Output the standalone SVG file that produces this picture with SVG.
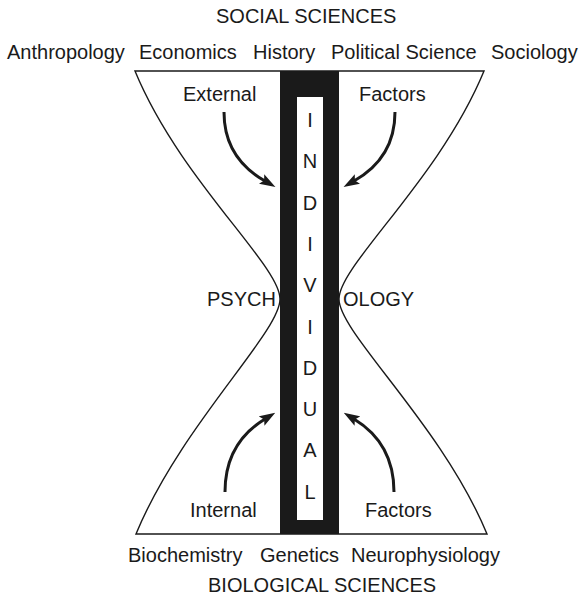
<svg xmlns="http://www.w3.org/2000/svg" width="582" height="599" viewBox="0 0 582 599">
  <style>
    text { font-family: "Liberation Sans", Arial, Helvetica, sans-serif; font-size: 20px; fill: #1a1a1a; }
    .mid { text-anchor: middle; }
    .outline { fill: #ffffff; stroke: #1a1a1a; stroke-width: 1.4; stroke-linejoin: miter; }
    .arrow { fill: none; stroke: #1a1a1a; stroke-width: 3; marker-end: url(#head); }
  </style>
  <defs>
    <marker id="head" viewBox="0 -5.5 16 11" refX="4" refY="0" markerWidth="16" markerHeight="11" markerUnits="userSpaceOnUse" orient="auto">
      <path d="M0,-5.5 L16,0 L0,5.5 L3,0 Z" fill="#1a1a1a"/>
    </marker>
  </defs>
  <rect width="582" height="599" fill="#ffffff"/>

  <!-- discipline labels -->
  <g id="social-sciences">
    <text x="216" y="23">SOCIAL SCIENCES</text>
    <text x="7" y="59">Anthropology</text>
    <text x="139" y="59">Economics</text>
    <text x="253" y="59">History</text>
    <text x="331" y="59">Political Science</text>
    <text x="491" y="59">Sociology</text>
  </g>

  <!-- hourglass outline -->
  <g id="psychology">
    <path class="outline" d="M135,71 L484,71 C439,180 339,265 339,299 C339,333 442,425 487,534 L136,534 C181,425 280,333 280,299 C280,265 180,180 135,71 Z"/>
    <text x="207" y="306">PSYCH</text>
    <text x="343" y="306">OLOGY</text>
  </g>

  <!-- central column -->
  <g id="individual">
    <rect x="280" y="71" width="59" height="463" fill="#1a1a1a"/>
    <rect x="297" y="97" width="26" height="423" fill="#ffffff"/>
    <text class="mid" x="310" y="127">I</text>
    <text class="mid" x="310" y="168.3">N</text>
    <text class="mid" x="310" y="209.6">D</text>
    <text class="mid" x="310" y="250.9">I</text>
    <text class="mid" x="310" y="292.2">V</text>
    <text class="mid" x="310" y="333.5">I</text>
    <text class="mid" x="310" y="374.8">D</text>
    <text class="mid" x="310" y="416.1">U</text>
    <text class="mid" x="310" y="457.4">A</text>
    <text class="mid" x="310" y="498.7">L</text>
  </g>

  <g id="external-factors">
    <text x="183" y="101">External</text>
    <text x="359" y="101">Factors</text>
  </g>

  <g id="internal-factors">
    <text x="190" y="517">Internal</text>
    <text x="365" y="517">Factors</text>
  </g>

  <g id="biological-sciences">
    <text x="128" y="562">Biochemistry</text>
    <text x="260" y="562">Genetics</text>
    <text x="351" y="562">Neurophysiology</text>
    <text x="208" y="592">BIOLOGICAL SCIENCES</text>
  </g>

  <!-- influence arrows -->
  <g id="connectors">
    <path class="arrow" d="M224,112 C224,148 242,168 265,181"/>
    <path class="arrow" d="M395,112 C395,148 377,168 354,181"/>
    <path class="arrow" d="M225,492 C225,455 242,433 265,419"/>
    <path class="arrow" d="M394,492 C394,455 377,433 354,419"/>
  </g>
</svg>
